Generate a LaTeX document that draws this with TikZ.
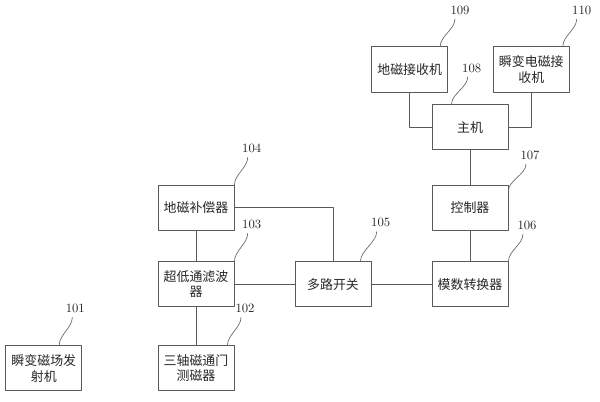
\documentclass[tikz,border=0pt]{standalone}
\usepackage{fontspec}
\newfontfamily\cjk{Noto Sans CJK SC}
\begin{document}
\begin{tikzpicture}[x=0.75pt, y=-0.75pt, line join=round, line cap=round,
    box/.style={draw=black!65, line width=0.7pt, minimum width=57pt, minimum height=34pt, align=center, text=black!85, font=\cjk\fontsize{9.7}{11.8}\selectfont},
    num/.style={font=\fontsize{9.5}{11}\selectfont, text=black!85},
    wire/.style={draw=black!65, line width=0.7pt},
    leader/.style={draw=black!60, line width=0.5pt}]
    \useasboundingbox (0,0) rectangle (600,401);
    % blocks
    \node[box] (b101) at (43.8,368.2) {瞬变磁场发\\射机};
    \node[box] (b102) at (196,368.2) {三轴磁通门\\测磁器};
    \node[box] (b103) at (196,284.2) {超低通滤波\\器};
    \node[box] (b104) at (196,207.8) {地磁补偿器};
    \node[box] (b105) at (333,284.2) {多路开关};
    \node[box] (b106) at (470,284.2) {模数转换器};
    \node[box] (b107) at (470,207.8) {控制器};
    \node[box] (b108) at (470,127.2) {主机};
    \node[box] (b109) at (409.7,69.5) {地磁接收机};
    \node[box] (b110) at (531.3,69.5) {瞬变电磁接\\收机};
    % wires
    \draw[wire] (b109) |- (b108);
    \draw[wire] (b110) |- (b108);
    \draw[wire] (b108) -- (b107);
    \draw[wire] (b107) -- (b106);
    \draw[wire] (b105) -- (b106);
    \draw[wire] (b103) -- (b105);
    \draw[wire] (b104) -| (b105);
    \draw[wire] (b104) -- (b103);
    \draw[wire] (b103) -- (b102);
    % reference numbers
    \node[num] (l101) at (75.3,308.3) {101};
    \node[num] (l102) at (245,308.3) {102};
    \node[num] (l103) at (251.7,224.3) {103};
    \node[num] (l104) at (251.7,148.3) {104};
    \node[num] (l105) at (380.7,222.7) {105};
    \node[num] (l106) at (527,225) {106};
    \node[num] (l107) at (530,155) {107};
    \node[num] (l108) at (471.7,68) {108};
    \node[num] (l109) at (460,10) {109};
    \node[num] (l110) at (581.7,10) {110};
    \draw[leader] ([shift={(-3,0)}]l101.south) .. controls +(0,10) and +(0,-10) .. ([shift={(-23,0)}]b101.north east);
    \draw[leader] ([shift={(-4,0)}]l102.south) .. controls +(0,10) and +(0,-10) .. ([shift={(-7,0)}]b102.north east);
    \draw[leader] ([shift={(-4,0)}]l103.south) .. controls +(0,10) and +(0,-10) .. (b103.north east);
    \draw[leader] ([shift={(-4,0)}]l104.south) .. controls +(0,10) and +(0,-10) .. (b104.north east);
    \draw[leader] ([shift={(-4,0)}]l105.south) .. controls +(0,10) and +(0,-10) .. ([shift={(-11,0)}]b105.north east);
    \draw[leader] ([shift={(-4,0)}]l106.south) .. controls +(0,10) and +(0,-10) .. (b106.north east);
    \draw[leader] ([shift={(-4,0)}]l107.south) .. controls +(0,10) and +(0,-10) .. ([shift={(0,6)}]b107.north east);
    \draw[leader] ([shift={(-4,0)}]l108.south) .. controls +(0,10) and +(0,-10) .. ([shift={(20,0)}]b108.north west);
    \draw[leader] ([shift={(-5,0)}]l109.south) .. controls +(0,10) and +(0,-10) .. ([shift={(-8,0)}]b109.north east);
    \draw[leader] ([shift={(-5,0)}]l110.south) .. controls +(0,10) and +(0,-10) .. ([shift={(-7,0)}]b110.north east);
\end{tikzpicture}
\end{document}
